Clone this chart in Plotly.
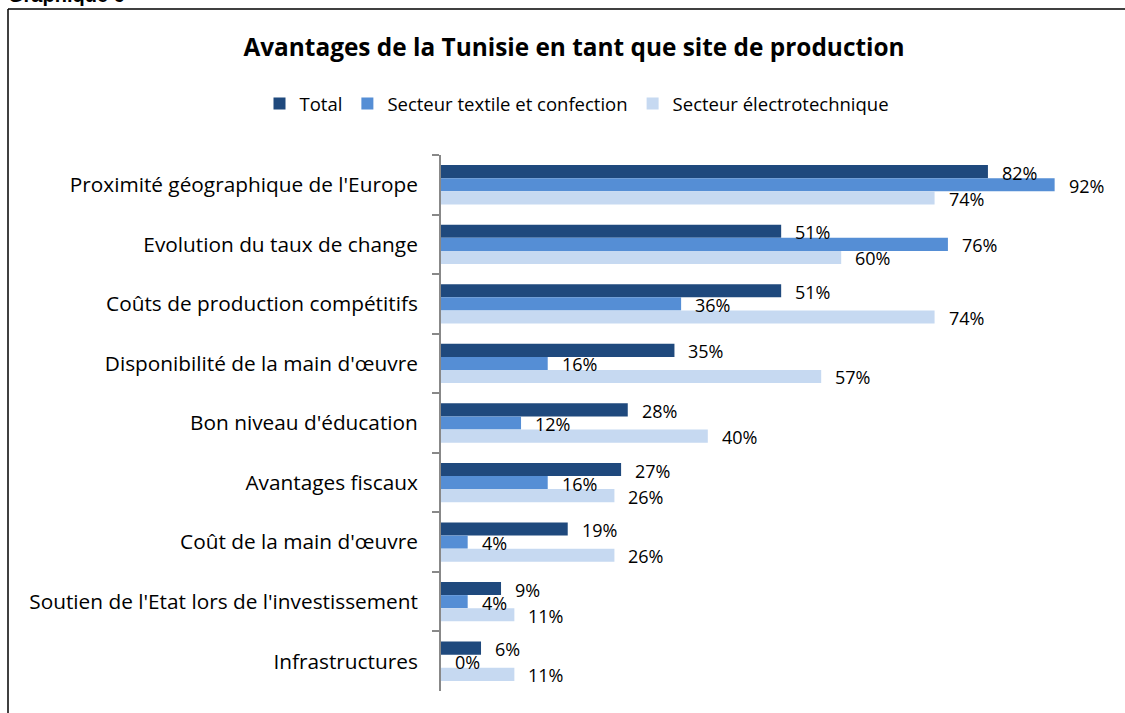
import plotly.graph_objects as go

categories = ["Proximité géographique de l'Europe", "Evolution du taux de change",
              "Coûts de production compétitifs", "Disponibilité de la main d'œuvre",
              "Bon niveau d'éducation", "Avantages fiscaux", "Coût de la main d'œuvre",
              "Soutien de l'Etat lors de l'investissement", "Infrastructures"]
total = [82, 51, 51, 35, 28, 27, 19, 9, 6]
textile = [92, 76, 36, 16, 12, 16, 4, 4, 0]
electro = [74, 60, 74, 57, 40, 26, 26, 11, 11]
series_names = ["Total", "Secteur textile et confection", "Secteur électrotechnique"]
colors = ["#1F497D", "#558ED5", "#C6D9F1"]

W, H = 1125, 713
L, R, T, B = 441, 17, 155, 22
FONT = "Open Sans"

fig = go.Figure()
for name, vals, col in zip(series_names, [total, textile, electro], colors):
    fig.add_trace(go.Bar(y=categories, x=[v / 100 for v in vals], name=name, orientation="h",
                         marker=dict(color=col, line=dict(width=0))))

shifts = [13, 0, -13]
for vals, ys in zip([total, textile, electro], shifts):
    for c, v in zip(categories, vals):
        fig.add_annotation(x=v / 100, y=c, text=f"{v}%", showarrow=False, xanchor="left",
                           xshift=12, yshift=ys - 1, font=dict(family=FONT, size=18, color="#000"))

pw = W - L - R
ph = H - T - B
def px(x):
    return (x - L) / pw
def py(y):
    return 1 - (y - T) / ph

# frame
fig.add_shape(type="line", xref="paper", yref="paper", x0=px(8), x1=px(8), y0=py(9), y1=py(713),
              line=dict(color="#000", width=1.5))
fig.add_shape(type="line", xref="paper", yref="paper", x0=px(8), x1=px(1125), y0=py(9), y1=py(9),
              line=dict(color="#000", width=1.5))
fig.add_annotation(xref="paper", yref="paper", x=px(6), y=py(8), xanchor="left", yanchor="bottom",
                   text="<b>Graphique 6</b>", showarrow=False,
                   font=dict(family="Liberation Sans", size=20, color="#000"))

fig.update_layout(
    width=W, height=H,
    margin=dict(l=L, r=R, t=T, b=B),
    paper_bgcolor="white", plot_bgcolor="white",
    barmode="group", bargap=0.34, bargroupgap=0,
    font=dict(family=FONT, color="#000"),
    title=dict(text="<b>Avantages de la Tunisie en tant que site de production</b>",
               xref="container", x=574 / W, xanchor="center",
               yref="container", y=1 - 47 / H, yanchor="middle",
               font=dict(family=FONT, size=24.4, color="#000")),
    legend=dict(orientation="h", xref="container", x=577 / W, xanchor="center",
                yref="container", y=1 - 104 / H, yanchor="middle",
                font=dict(family=FONT, size=18.5, color="#000"), itemclick=False),
    xaxis=dict(range=[0, 1], showgrid=False, zeroline=False, showticklabels=False, showline=False),
    yaxis=dict(autorange="reversed", showgrid=False, showline=True, linecolor="#888", linewidth=2,
               ticks="outside", tickson="boundaries", ticklen=7, tickcolor="#888", tickwidth=2,
               tickfont=dict(family=FONT, size=20.8, color="#000"), ticklabelstandoff=17),
)

fig.write_html("out.html", config={"displayModeBar": False},
               post_script="document.body.style.margin='0';document.body.style.overflow='hidden';")
